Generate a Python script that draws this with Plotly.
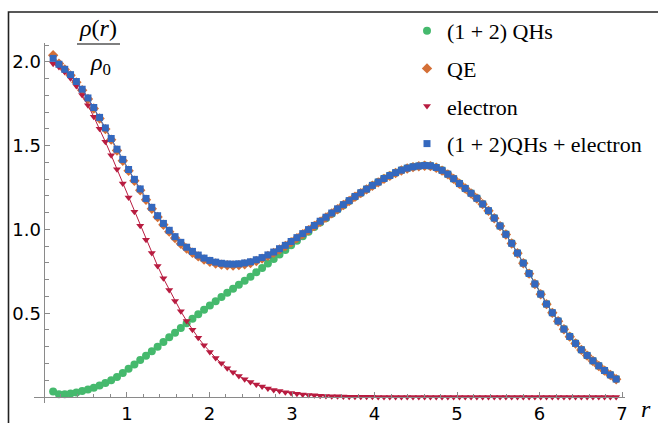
import plotly.graph_objects as go

# radial grid of the sampled points
r = [round(0.105 + 0.07035 * i, 4) for i in range(98)]

qhs = [0.032, 0.016, 0.016, 0.021, 0.027, 0.035, 0.044, 0.055, 0.068, 0.083,
       0.100, 0.119, 0.143, 0.168, 0.194, 0.220, 0.246, 0.273, 0.300, 0.328,
       0.356, 0.384, 0.412, 0.440, 0.467, 0.494, 0.520, 0.546, 0.572, 0.597,
       0.622, 0.646, 0.670, 0.694, 0.718, 0.744, 0.770, 0.797, 0.823, 0.850,
       0.877, 0.905, 0.932, 0.960, 0.987, 1.014, 1.041, 1.067, 1.093, 1.119,
       1.145, 1.170, 1.195, 1.218, 1.240, 1.262, 1.283, 1.304, 1.322, 1.339,
       1.354, 1.366, 1.374, 1.379, 1.382, 1.380, 1.370, 1.353, 1.330, 1.303,
       1.274, 1.245, 1.216, 1.186, 1.152, 1.112, 1.068, 1.021, 0.971, 0.917,
       0.859, 0.799, 0.737, 0.675, 0.614, 0.555, 0.503, 0.453, 0.405, 0.361,
       0.320, 0.282, 0.248, 0.216, 0.186, 0.158, 0.132, 0.107]

qe = [2.040, 1.990, 1.955, 1.920, 1.878, 1.831, 1.779, 1.722, 1.662, 1.599,
      1.536, 1.471, 1.410, 1.350, 1.291, 1.234, 1.177, 1.124, 1.074, 1.028,
      0.987, 0.949, 0.915, 0.886, 0.861, 0.839, 0.821, 0.807, 0.797, 0.790,
      0.786, 0.785, 0.787, 0.792, 0.800, 0.812, 0.826, 0.842, 0.860, 0.880,
      0.901, 0.924, 0.948, 0.972, 0.996, 1.021, 1.046, 1.071, 1.096, 1.121,
      1.146, 1.170, 1.195, 1.217, 1.239, 1.261, 1.281, 1.302, 1.320, 1.337,
      1.352, 1.364, 1.372, 1.377, 1.380, 1.378, 1.368, 1.351, 1.329, 1.302,
      1.273, 1.244, 1.215, 1.185, 1.151, 1.111, 1.067, 1.020, 0.970, 0.916,
      0.858, 0.798, 0.736, 0.674, 0.613, 0.554, 0.502, 0.452, 0.404, 0.360,
      0.319, 0.281, 0.247, 0.215, 0.185, 0.157, 0.131, 0.106]

electron = [1.989, 1.970, 1.940, 1.903, 1.856, 1.802, 1.741, 1.673, 1.601, 1.523,
            1.443, 1.360, 1.275, 1.190, 1.105, 1.022, 0.939, 0.859, 0.782, 0.708,
            0.639, 0.573, 0.511, 0.454, 0.402, 0.353, 0.309, 0.269, 0.233, 0.201,
            0.172, 0.147, 0.125, 0.106, 0.089, 0.075, 0.062, 0.051, 0.042, 0.035,
            0.028, 0.023, 0.019, 0.015, 0.012, 0.010, 0.008, 0.006, 0.005, 0.004,
            0.003, 0.002, 0.002, 0.001, 0.001, 0.001, 0.000, 0.000, 0.000, 0.000,
            0.000, 0.000, 0.000, 0.000, 0.000, 0.000, 0.000, 0.000, 0.000, 0.000,
            0.000, 0.000, 0.000, 0.000, 0.000, 0.000, 0.000, 0.000, 0.000, 0.000,
            0.000, 0.000, 0.000, 0.000, 0.000, 0.000, 0.000, 0.000, 0.000, 0.000,
            0.000, 0.000, 0.000, 0.000, 0.000, 0.000, 0.000, 0.000]

qhs_electron = [2.021, 1.986, 1.956, 1.924, 1.883, 1.837, 1.785, 1.728, 1.669, 1.606,
                1.543, 1.479, 1.418, 1.358, 1.299, 1.242, 1.185, 1.132, 1.082, 1.036,
                0.995, 0.957, 0.923, 0.894, 0.869, 0.847, 0.829, 0.815, 0.805, 0.798,
                0.794, 0.793, 0.795, 0.800, 0.807, 0.819, 0.832, 0.848, 0.865, 0.885,
                0.905, 0.928, 0.951, 0.975, 0.999, 1.024, 1.049, 1.073, 1.098, 1.123,
                1.148, 1.172, 1.197, 1.219, 1.241, 1.263, 1.283, 1.304, 1.322, 1.339,
                1.354, 1.366, 1.374, 1.379, 1.382, 1.380, 1.370, 1.353, 1.330, 1.303,
                1.274, 1.245, 1.216, 1.186, 1.152, 1.112, 1.068, 1.021, 0.971, 0.917,
                0.859, 0.799, 0.737, 0.675, 0.614, 0.555, 0.503, 0.453, 0.405, 0.361,
                0.320, 0.282, 0.248, 0.216, 0.186, 0.158, 0.132, 0.107]

series_names = ["(1 + 2) QHs", "QE", "electron", "(1 + 2)QHs + electron"]

x_tickvals = [1, 2, 3, 4, 5, 6, 7]
x_ticktext = ["1", "2", "3", "4", "5", "6", "7"]
y_tickvals = [0.5, 1.0, 1.5, 2.0]
y_ticktext = ["0.5", "1.0", "1.5", "2.0"]

# ---- styling ----
GREEN = "#45B96D"
ORANGE = "#D46F36"
RED = "#B81C40"
BLUE = "#3468BE"
AXIS = "#8a8a8a"

X_RANGE = [-0.127, 7.036]
Y_RANGE = [-0.036, 2.113]

W, H = 658, 423
ML, MR, MT, MB = 34, 5, 12, 20
PW, PH = W - ML - MR, H - MT - MB
# axes box in pixels: x 34..625, y 43..403
X_DOM = [0, (625 - ML) / PW]
Y_DOM = [0, (403 - 43) / PH]


def px(xpix):
    return (xpix - ML) / PW


def py(ypix):
    return (H - MB - ypix) / PH


styles = [
    (qhs, "circle", 8, GREEN),
    (qe, "diamond", 8, ORANGE),
    (electron, "triangle-down", 7, RED),
    (qhs_electron, "square", 7, BLUE),
]

fig = go.Figure()
for i, (name, (ys, sym, size, col)) in enumerate(zip(series_names, styles)):
    fig.add_trace(go.Scatter(x=r, y=ys, mode="lines", line=dict(color=col, width=1),
                             showlegend=False, hoverinfo="skip", legendgroup=str(i)))
    fig.add_trace(go.Scatter(x=r, y=ys, mode="markers", name=name, legendgroup=str(i),
                             marker=dict(symbol=sym, size=size, color=col, line=dict(width=0))))

x_minor = [round(0.2 * i, 2) for i in range(1, 36) if i % 5]
y_minor = [round(0.1 * i, 2) for i in range(1, 22) if i % 5]

tick_font = dict(family="DejaVu Sans, Arial, sans-serif", size=18, color="black")

fig.update_xaxes(
    range=X_RANGE, domain=X_DOM, anchor="free",
    position=Y_DOM[1] * (0 - Y_RANGE[0]) / (Y_RANGE[1] - Y_RANGE[0]),
    showline=True, linecolor=AXIS, linewidth=1,
    showgrid=False, zeroline=False,
    tickmode="array", tickvals=x_tickvals, ticktext=x_ticktext,
    ticks="inside", ticklen=5, tickwidth=1, tickcolor=AXIS,
    minor=dict(tickmode="array", tickvals=x_minor, ticks="inside", ticklen=3, tickcolor=AXIS, showgrid=False),
    tickfont=tick_font, automargin=False,
)
fig.update_yaxes(
    range=Y_RANGE, domain=Y_DOM, anchor="free",
    position=X_DOM[1] * (0 - X_RANGE[0]) / (X_RANGE[1] - X_RANGE[0]),
    showline=True, linecolor=AXIS, linewidth=1,
    showgrid=False, zeroline=False,
    tickmode="array", tickvals=y_tickvals, ticktext=y_ticktext,
    ticks="inside", ticklen=5, tickwidth=1, tickcolor=AXIS,
    minor=dict(tickmode="array", tickvals=y_minor, ticks="inside", ticklen=4, tickcolor=AXIS, showgrid=False),
    tickfont=tick_font, automargin=False,
)

serif = "Liberation Serif, Times New Roman, serif"

fig.update_layout(
    width=W, height=H, autosize=False,
    margin=dict(l=ML, r=MR, t=MT, b=MB, pad=0),
    paper_bgcolor="white", plot_bgcolor="rgba(0,0,0,0)",
    showlegend=True,
    legend=dict(x=px(407), y=py(10), xanchor="left", yanchor="top",
                font=dict(family=serif, size=22, color="black"),
                bgcolor="rgba(0,0,0,0)", tracegroupgap=6, traceorder="grouped",
                itemsizing="trace"),
    annotations=[
        dict(xref="paper", yref="paper", x=px(98), y=py(28), text="<i>ρ</i>(<i>r</i>)",
             showarrow=False, font=dict(family=serif, size=24, color="black"),
             xanchor="center", yanchor="middle"),
        dict(xref="paper", yref="paper", x=px(100), y=py(64), text="<i>ρ</i><sub>0</sub>",
             showarrow=False, font=dict(family=serif, size=24, color="black"),
             xanchor="center", yanchor="middle"),
        dict(xref="paper", yref="paper", x=px(646), y=py(409), text="<i>r</i>",
             showarrow=False, font=dict(family=serif, size=24, color="black"),
             xanchor="center", yanchor="middle"),
    ],
    shapes=[
        dict(type="line", xref="paper", yref="paper", x0=px(77), x1=px(120), y0=py(44), y1=py(44),
             line=dict(color="black", width=1.2)),
        dict(type="rect", xref="paper", yref="paper", x0=px(8.5), x1=px(700), y0=py(470), y1=py(12),
             line=dict(color="#222222", width=1.6), layer="above"),
    ],
)

fig.write_html("out.html", config={"displayModeBar": False},
               post_script="document.body.style.margin='0px';document.body.style.overflow='hidden';")
